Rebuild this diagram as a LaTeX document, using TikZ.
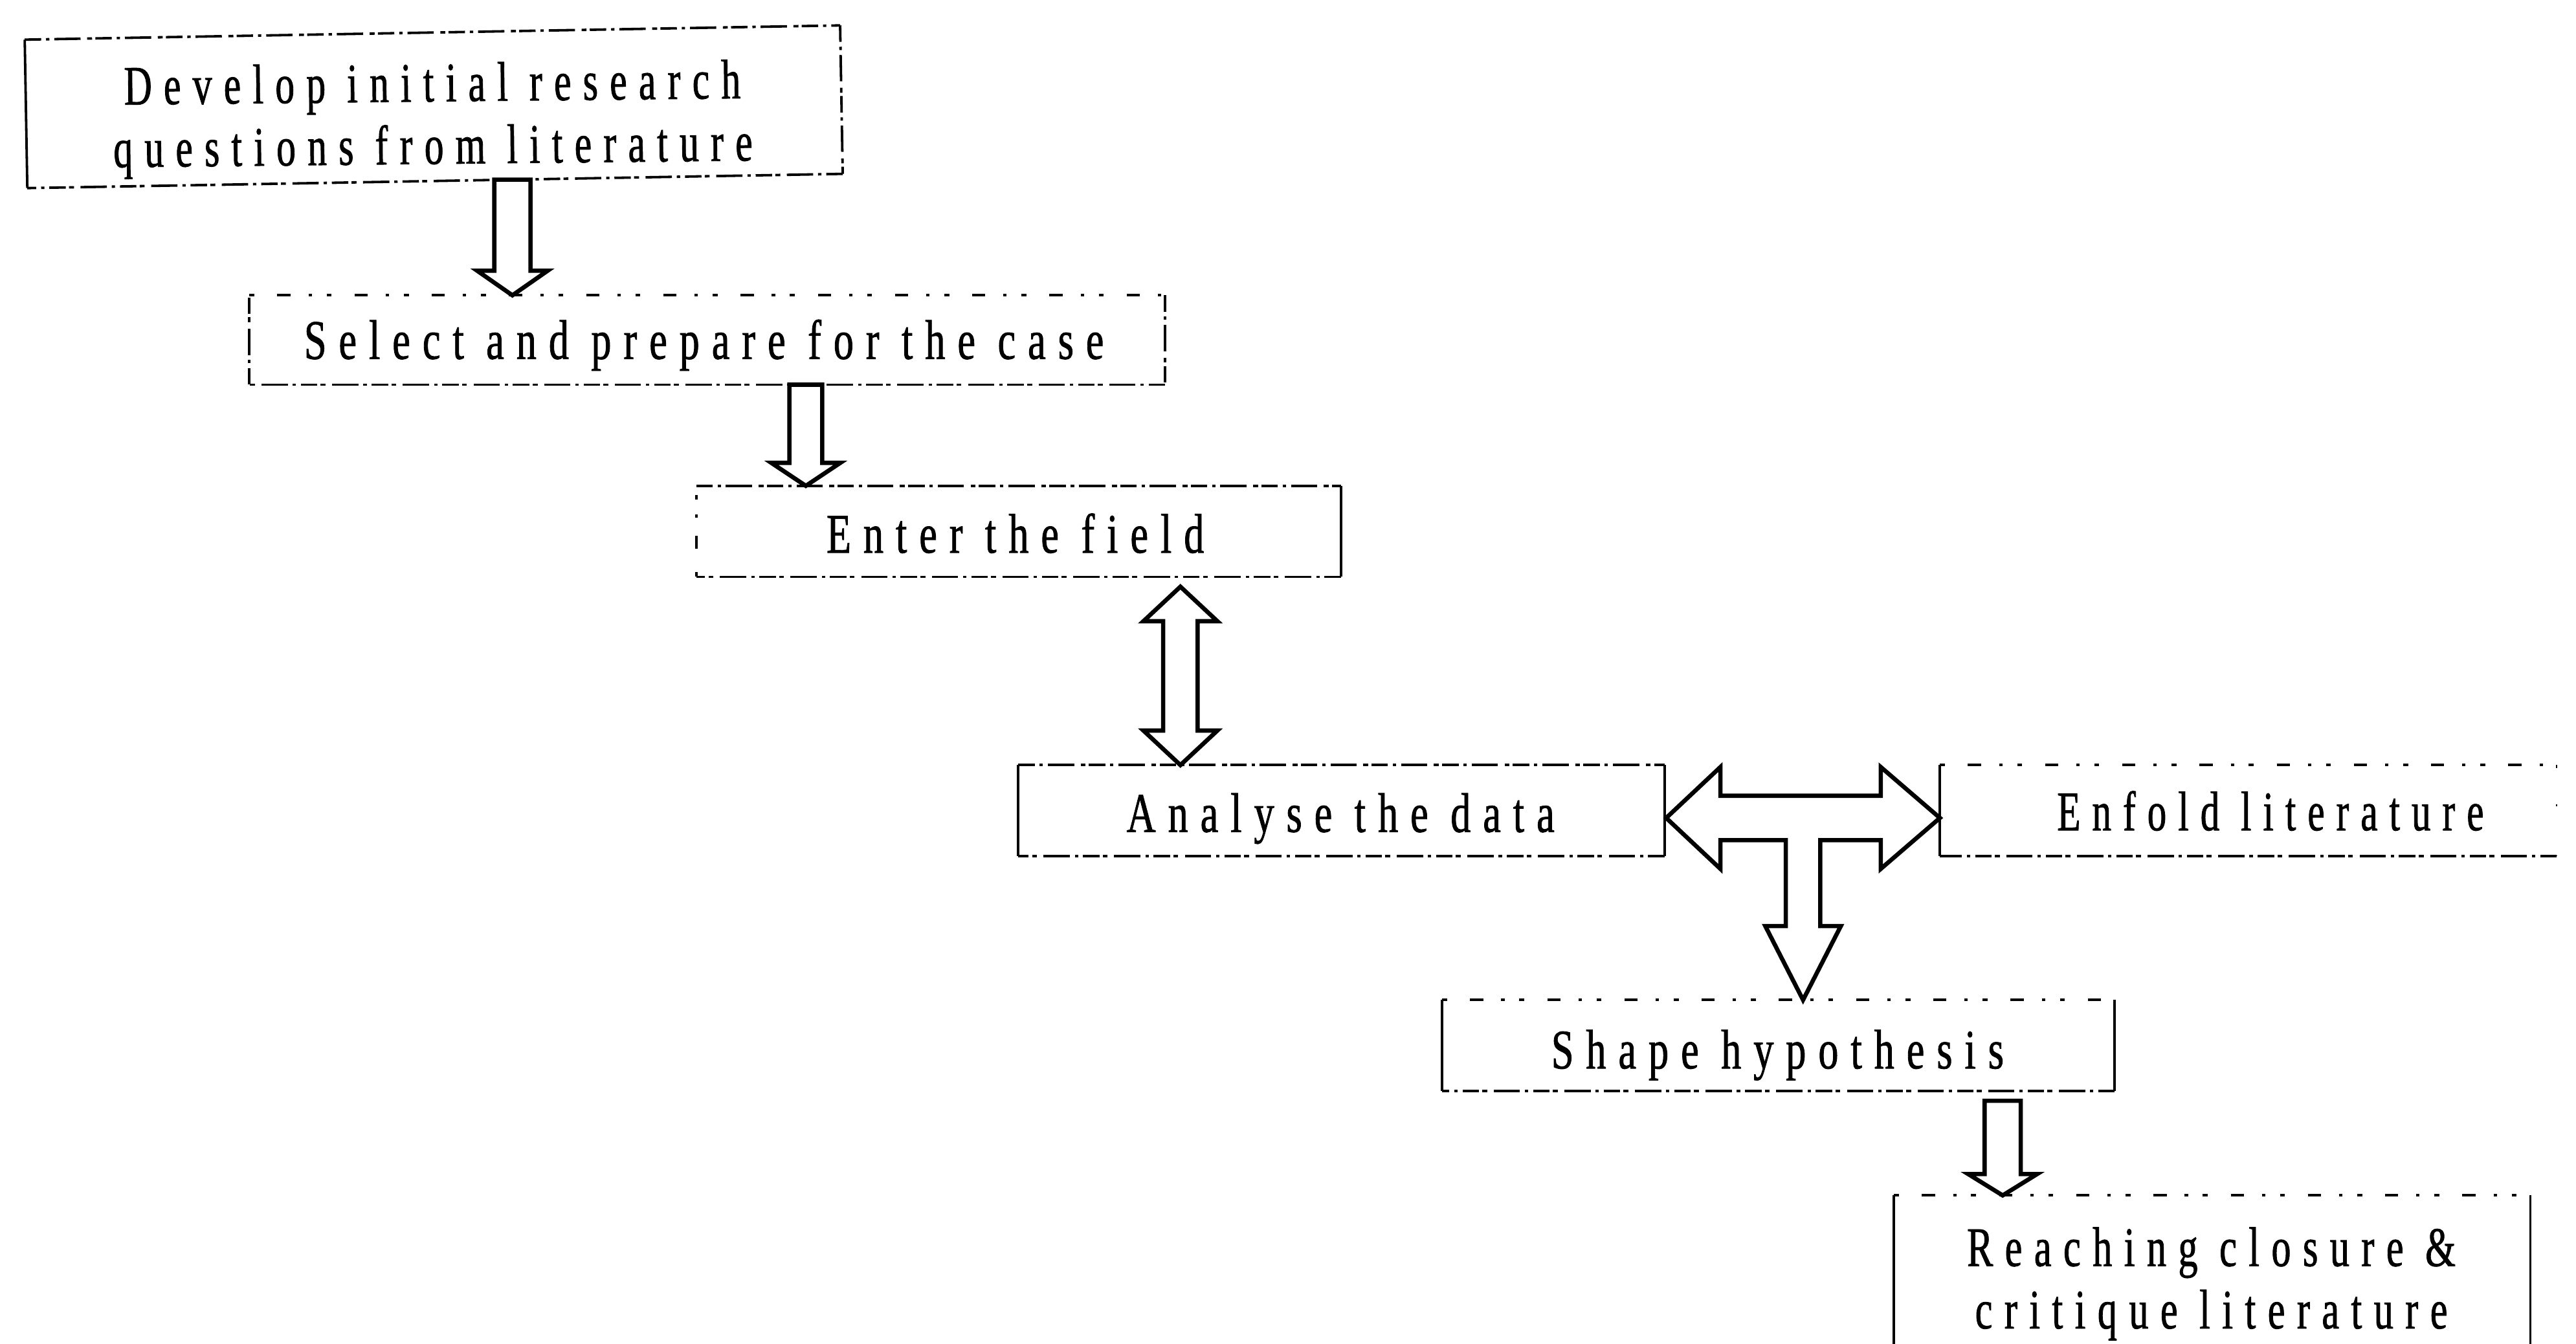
\documentclass[tikz,border=0pt]{standalone}
\usepackage{fontspec}
\usetikzlibrary{calc}
\newfontfamily\lblfont[FakeStretch=0.72,LetterSpace=22,FakeBold=1]{Liberation Serif}

% block arrow pointing down: #1 top centre, #2 tip, #3 shaft half width, #4 head half width, #5 head length
\newcommand\blockdown[5]{%
  \draw[blockarrow] ($(#1)+(-#3,0)$) -- ($(#2)+(-#3,-#5)$) -- ($(#2)+(-#4,-#5)$) -- (#2)
    -- ($(#2)+(#4,-#5)$) -- ($(#2)+(#3,-#5)$) -- ($(#1)+(#3,0)$) -- cycle;}
% vertical block arrow with two heads: #1 upper tip, #2 lower tip
\newcommand\blockdouble[5]{%
  \draw[blockarrow] (#1) -- ($(#1)+(#4,#5)$) -- ($(#1)+(#3,#5)$) -- ($(#2)+(#3,-#5)$)
    -- ($(#2)+(#4,-#5)$) -- (#2) -- ($(#2)+(-#4,-#5)$) -- ($(#2)+(-#3,-#5)$)
    -- ($(#1)+(-#3,#5)$) -- ($(#1)+(-#4,#5)$) -- cycle;}
% four sides of a box, each with its own line style: top, right, bottom, left
\newcommand\rims[5]{%
  \draw[#2] (#1.north west) -- (#1.north east);
  \draw[#3] (#1.north east) -- (#1.south east);
  \draw[#4] (#1.south east) -- (#1.south west);
  \draw[#5] (#1.south west) -- (#1.north west);}

\tikzset{
  stage/.style={inner sep=0pt, align=center, font=\lblfont\fontsize{34}{38}\selectfont},
  oneline/.style={stage, text height=23pt, text depth=0pt},
  narrower/.style={xscale=#1, transform shape},
  frame/.style={inner sep=0pt},
  rim/.style={line width=1.5pt},
  rimsolid/.style={rim},
  rimdash/.style={rim, dash pattern=on 10pt off 3pt on 2pt off 3pt on 16pt off 4pt on 3pt off 2pt},
  rimsparse/.style={rim, dash pattern=on 3pt off 14pt on 8pt off 11pt on 2pt off 9pt},
  rimfaint/.style={line width=1pt, dash pattern=on 2pt off 22pt on 1pt off 30pt},
  blockarrow/.style={draw, line width=2.6pt, line join=miter, fill=white},
}

\begin{document}
\begin{tikzpicture}[x=1pt,y=-1pt]
\useasboundingbox (0,0) rectangle (1568,818);
\clip (0,0) rectangle (1568,818);

% stage frames
\node[frame, minimum width=496pt, minimum height=90pt, rotate=1] (b1) at (264,65) {};
\node[frame, minimum width=557pt, minimum height=54pt] (b2) at (430.5,207) {};
\node[frame, minimum width=392pt, minimum height=55pt] (b3) at (620,323.5) {};
\node[frame, minimum width=393pt, minimum height=55pt] (b4) at (816.5,493.5) {};
\node[frame, minimum width=375pt, minimum height=55pt] (b5) at (1368.5,493.5) {};
\node[frame, minimum width=409pt, minimum height=55pt] (b6) at (1082.5,636.5) {};
\node[frame, minimum width=387pt, minimum height=120pt] (b7) at (1346.5,788) {};

% stage labels
\node[stage, anchor=north, rotate=0.6, narrower=0.96] (t1) at (263,38) {Develop initial research\\questions from literature};
\node[oneline] (t2) at (428.5,207) {Select and prepare for the case};
\node[oneline] (t3) at (618,325) {Enter the field};
\node[oneline] (t4) at (816,495) {Analyse the data};
\node[oneline, narrower=0.95] (t5) at (1382,494) {Enfold literature};
\node[oneline] (t6) at (1082,639) {Shape hypothesis};
\node[stage, anchor=north, narrower=0.97] (t7) at (1346,747) {Reaching closure \&\\critique literature};

\rims{b1}{rimdash}{rimdash}{rimdash}{rimsolid}
\rims{b2}{rimsparse}{rimdash}{rimdash}{rimdash}
\rims{b3}{rimdash}{rimsolid}{rimdash}{rimsparse}
\rims{b4}{rimdash}{rimsolid}{rimdash}{rimsolid}
\rims{b5}{rimsparse}{rimfaint}{rimdash}{rimsolid}
\rims{b6}{rimsparse}{rimsolid}{rimdash}{rimsolid}
\rims{b7}{rimsparse}{rimsolid}{rimsolid}{rimsolid}

% single downward arrows
\coordinate (a1s) at ($(b1.south west)!(310,0)!(b1.south east)$);
\coordinate (a1t) at (a1s |- b2.north);
\blockdown{a1s}{a1t}{11}{21.5}{15}
\coordinate (a2s) at ($(b2.south west)!(490.5,0)!(b2.south east)$);
\coordinate (a2t) at (a2s |- b3.north);
\blockdown{a2s}{a2t}{10}{21}{14}
\coordinate (a6s) at ($(b6.south -| 1219,0)+(0,6)$);
\coordinate (a6t) at (a6s |- b7.north);
\blockdown{a6s}{a6t}{11}{21}{13}

% two-way arrow between field and analysis
\coordinate (d1) at ($(b3.south -| 718.5,0)+(0,6)$);
\coordinate (d2) at (d1 |- b4.north);
\blockdouble{d1}{d2}{10.5}{22.5}{21}

% T-shaped arrow: analysis <-> literature, down to hypothesis
\coordinate (tl) at ($(b4.east)+(1,4.5)$);
\coordinate (tr) at (b5.west |- tl);
\coordinate (tm) at ($(tl)!0.5!(tr)$);
\coordinate (tb) at (tm |- b6.north);
\draw[blockarrow] (tl) -- ($(tl)+(33,-31)$) -- ($(tl)+(33,-13.5)$) -- ($(tr)+(-36,-13.5)$)
  -- ($(tr)+(-36,-31)$) -- (tr) -- ($(tr)+(-36,31)$) -- ($(tr)+(-36,13.5)$)
  -- ($(tm)+(10.5,13.5)$) -- ($(tb)+(10.5,-45)$) -- ($(tb)+(23,-45)$) -- (tb)
  -- ($(tb)+(-23,-45)$) -- ($(tb)+(-10.5,-45)$) -- ($(tm)+(-10.5,13.5)$)
  -- ($(tl)+(33,13.5)$) -- ($(tl)+(33,31)$) -- cycle;
\end{tikzpicture}
\end{document}
